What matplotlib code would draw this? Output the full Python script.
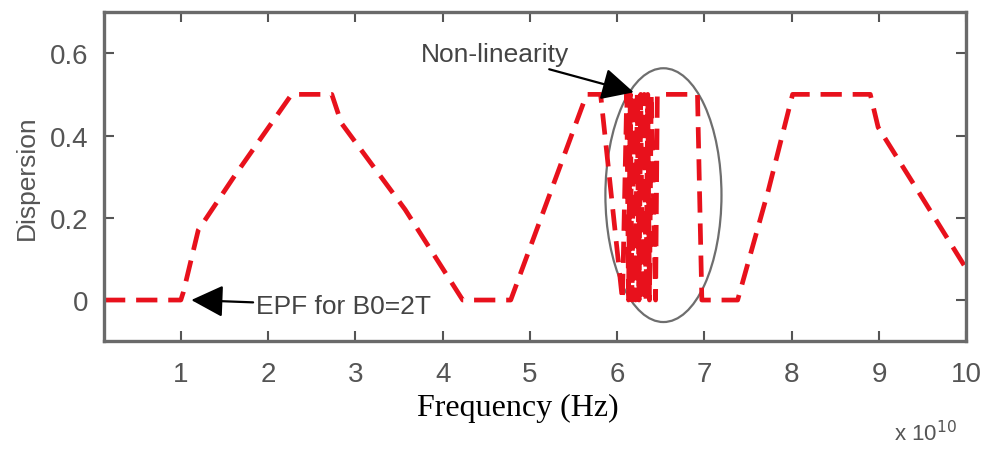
import matplotlib.pyplot as plt
from matplotlib.patches import Ellipse

# Dispersion curve (frequency in units of 1e10 Hz)
freq = [0.12, 1.0, 1.03, 1.2, 1.61, 2.27, 2.73, 2.84, 3.57, 4.08, 4.23, 4.78, 5.65, 5.81,
        6.06, 6.11, 6.13, 6.15, 6.17, 6.19, 6.21, 6.23, 6.25, 6.27, 6.29, 6.31, 6.33,
        6.35, 6.37, 6.39, 6.44, 6.46, 6.92, 6.97, 7.38, 7.73, 8.01, 8.90, 8.99, 9.50, 10.0]
dispersion = [0.0, 0.0, 0.02, 0.17, 0.30, 0.50, 0.50, 0.43, 0.22, 0.05, 0.0, 0.0, 0.50, 0.50,
              0.0, 0.50, 0.0, 0.50, 0.0, 0.50, 0.0, 0.50, 0.0, 0.50, 0.0, 0.50, 0.0,
              0.50, 0.0, 0.50, 0.0, 0.50, 0.50, 0.0, 0.0, 0.265, 0.50, 0.50, 0.42, 0.247, 0.076]

xticks = [1, 2, 3, 4, 5, 6, 7, 8, 9, 10]
yticks = [0, 0.2, 0.4, 0.6]
ytick_labels = ['0', '0.2', '0.4', '0.6']

gray = '#555555'
plt.rcParams['font.family'] = ['Liberation Sans', 'DejaVu Sans']

fig = plt.figure(figsize=(9.85, 4.52), dpi=100)
ax = fig.add_axes([0.1056, 0.243, 0.8754, 0.728])

ax.plot(freq, dispersion, color='#e8111c', lw=3.4, dashes=(4.5, 2.3))

# circle around the non-linear part
ax.add_patch(Ellipse((6.53, 0.255), 1.33, 0.617, fill=False, edgecolor='#6e6e6e', lw=1.6))

arrow = dict(arrowstyle='-|>,head_length=0.9,head_width=0.45', color='black', lw=1.6,
             mutation_scale=22, shrinkA=0, shrinkB=0)
ax.annotate('Non-linearity', xy=(6.19, 0.505), xytext=(5.45, 0.597),
            ha='right', va='center', fontsize=19, color='#444444', arrowprops=arrow)
ax.annotate('EPF for B0=2T', xy=(1.12, 0.0), xytext=(1.86, -0.014),
            ha='left', va='center', fontsize=19, color='#444444', arrowprops=arrow)

ax.set_xlim(0.12, 10)
ax.set_ylim(-0.1, 0.7)
ax.set_xticks(xticks)
ax.set_xticklabels([str(t) for t in xticks])
ax.set_yticks(yticks)
ax.set_yticklabels(ytick_labels)
ax.tick_params(direction='in', top=True, right=True, length=7, width=1.5,
               colors=gray, labelsize=20, pad=14)
ax.tick_params(axis='y', pad=11)
for s in ax.spines.values():
    s.set_color('#6a6a6a')
    s.set_linewidth(2.4)

ax.set_ylabel('Dispersion', fontsize=19, color=gray, labelpad=8)

fig.text(0.526, 0.097, 'Frequency (Hz)', ha='center', va='center',
         fontsize=23, family='Liberation Serif', color='black')
fig.text(0.94, 0.04, r'x 10$^{10}$', ha='center', va='center',
         fontsize=16, color=gray)

fig.savefig('out.png', dpi=100, facecolor='white')
